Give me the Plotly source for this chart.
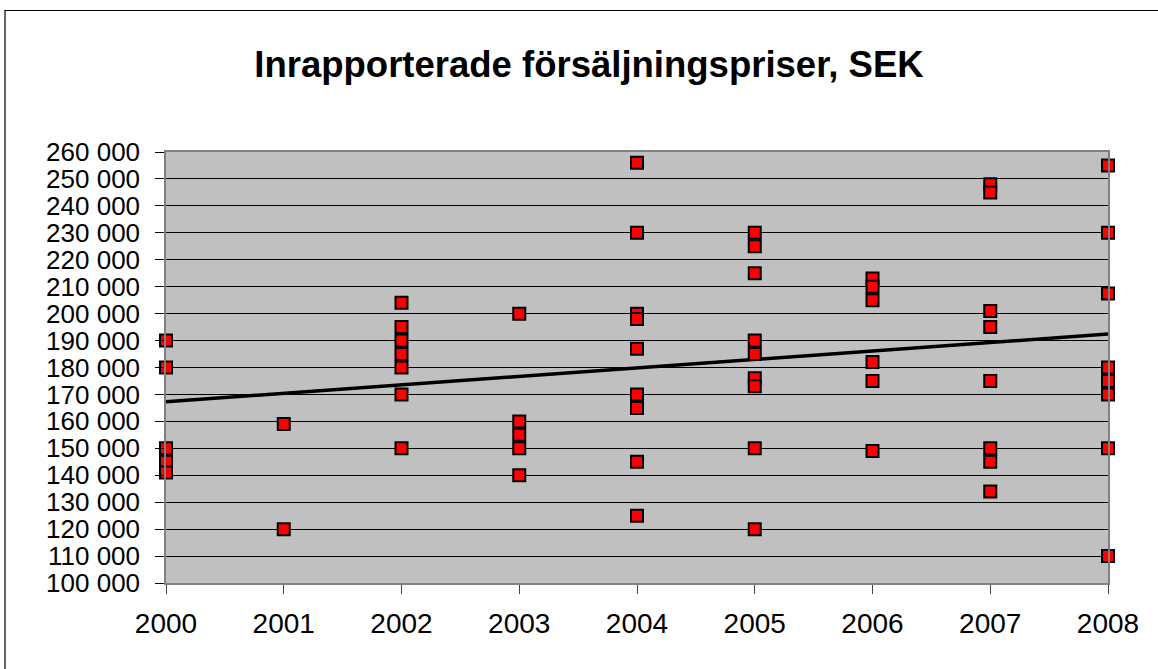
import plotly.graph_objects as go

# ---- data ----
years_2000 = [190000, 180000, 150000, 145000, 141000]
years_2001 = [159000, 120000]
years_2002 = [204000, 195000, 190000, 185000, 180000, 170000, 150000]
years_2003 = [200000, 160000, 155000, 150000, 140000]
years_2004 = [256000, 230000, 200000, 198000, 187000, 170000, 165000, 145000, 125000]
years_2005 = [230000, 225000, 215000, 190000, 185000, 176000, 173000, 150000, 120000]
years_2006 = [213000, 210000, 205000, 182000, 175000, 149000]
years_2007 = [248000, 245000, 201000, 195000, 175000, 150000, 145000, 134000]
years_2008 = [255000, 230000, 207500, 180000, 175000, 170000, 150000, 110000]

year_labels = [2000, 2001, 2002, 2003, 2004, 2005, 2006, 2007, 2008]
prices_by_year = [years_2000, years_2001, years_2002, years_2003, years_2004,
                  years_2005, years_2006, years_2007, years_2008]

trend_x = [2000, 2008]
trend_y = [167300, 192400]

y_tick_vals = [100000, 110000, 120000, 130000, 140000, 150000, 160000, 170000, 180000,
               190000, 200000, 210000, 220000, 230000, 240000, 250000, 260000]
y_tick_text = ["100 000", "110 000", "120 000", "130 000", "140 000", "150 000", "160 000",
               "170 000", "180 000", "190 000", "200 000", "210 000", "220 000", "230 000",
               "240 000", "250 000", "260 000"]

title_text = "Inrapporterade försäljningspriser, SEK"

# ---- build figure ----
xs, ys = [], []
for yr, vals in zip(year_labels, prices_by_year):
    for v in vals:
        xs.append(yr)
        ys.append(v)

FONT = "Liberation Sans, Arial, sans-serif"

fig = go.Figure()
fig.add_trace(go.Scatter(
    x=trend_x, y=trend_y, mode="lines",
    line=dict(color="black", width=3.5),
    hoverinfo="skip", showlegend=False, cliponaxis=False,
))
fig.add_trace(go.Scatter(
    x=xs, y=ys, mode="markers",
    marker=dict(symbol="square", size=12, color="#FF0000",
                line=dict(color="black", width=2)),
    showlegend=False, cliponaxis=False,
))

fig.update_layout(
    width=1158, height=669,
    margin=dict(l=166, r=50, t=152, b=86, autoexpand=False),
    paper_bgcolor="white",
    plot_bgcolor="#C0C0C0",
    font=dict(family=FONT, size=28, color="black"),
    title=dict(text=title_text, x=589 / 1158, xanchor="center",
               xref="container", yref="container", y=1 - 64 / 669, yanchor="middle",
               font=dict(family=FONT, size=36.5, color="black", weight="bold")),
    xaxis=dict(
        range=[2000, 2008], tickmode="array", tickvals=year_labels,
        ticktext=[str(y) for y in year_labels],
        showgrid=False, zeroline=False,
        showline=True, linecolor="#808080", linewidth=1.5, mirror=True,
        ticks="outside", ticklen=9, tickcolor="#404040", tickwidth=1,
        ticklabelstandoff=6,
        tickfont=dict(family=FONT, size=28, color="black"),
    ),
    yaxis=dict(
        range=[100000, 260000], tickmode="array", tickvals=y_tick_vals,
        ticktext=y_tick_text,
        showgrid=True, gridcolor="black", gridwidth=1, zeroline=False,
        showline=True, linecolor="#808080", linewidth=1.5, mirror=True,
        ticks="outside", ticklen=9, tickcolor="black", tickwidth=1,
        ticklabelstandoff=10,
        tickfont=dict(family=FONT, size=26, color="black"),
    ),
    shapes=[dict(type="rect", xref="paper", yref="paper",
                 x0=(5 - 166) / 942, x1=1.2,
                 y0=-0.4, y1=(583 - 10.5) / 431,
                 line=dict(color="black", width=1.2), layer="above")],
)

fig.write_html(
    "out.html",
    config={"displayModeBar": False},
    post_script="document.body.style.margin='0';document.body.style.overflow='hidden';",
)
